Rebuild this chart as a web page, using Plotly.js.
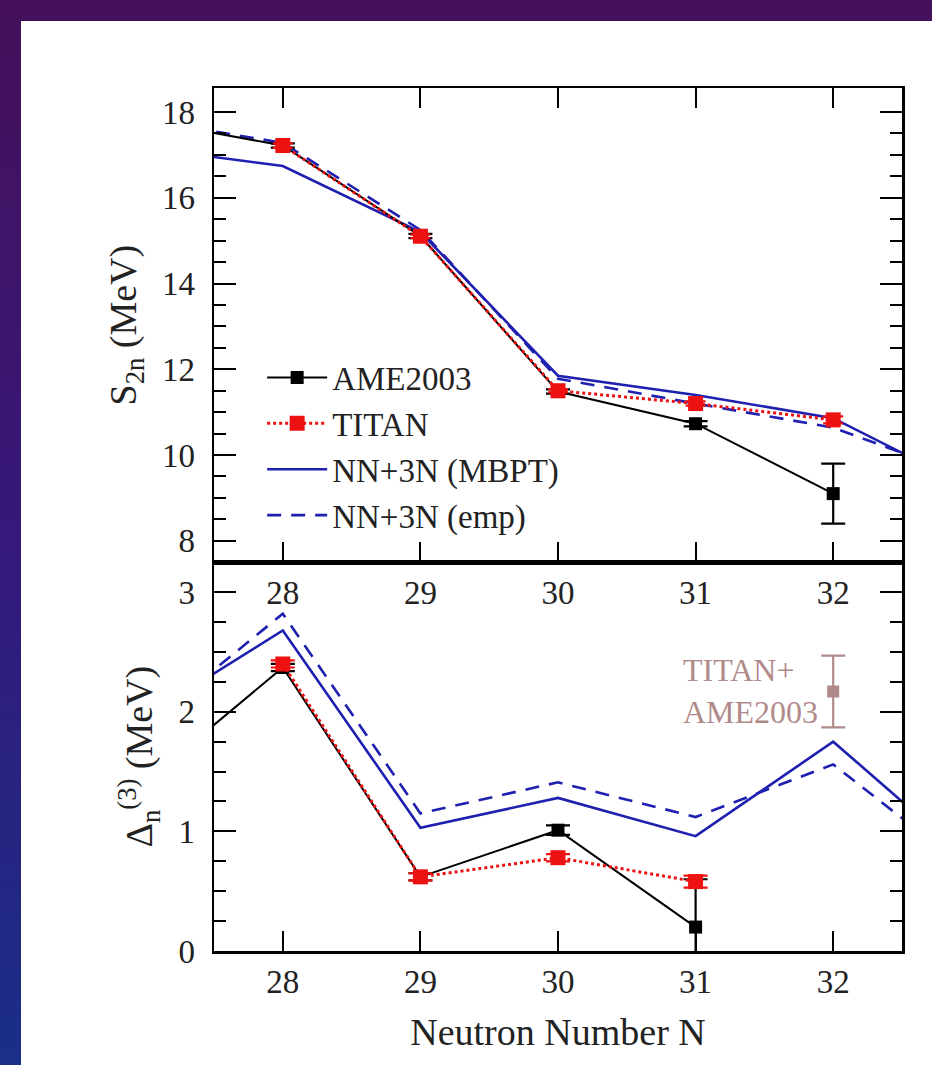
<!DOCTYPE html>
<html>
<head>
<meta charset="utf-8">
<script src="https://cdn.plot.ly/plotly-3.0.1.min.js"></script>
<style>
  html, body { margin: 0; padding: 0; }
  body {
    width: 932px; height: 1065px; overflow: hidden;
    background: linear-gradient(to bottom, #46105a 0%, #35187a 50%, #1a2f88 100%);
  }
  #chart { position: absolute; left: 21px; top: 21px; width: 911px; height: 1044px; background: #ffffff; }
</style>
</head>
<body>
<div id="chart"></div>
<script>
// ---------- data ----------
// Top panel: two-neutron separation energy S2n (MeV)
const ameN_S2n      = [27, 28, 29, 30, 31, 32];
const ame_S2n       = [17.80, 17.22, 15.11, 11.48, 10.73, 9.10];
const ame_S2n_err   = [0, 0.05, 0.05, 0.05, 0.06, 0.70];

const titanN_S2n    = [28, 29, 30, 31, 32];
const titan_S2n     = [17.22, 15.10, 11.50, 11.20, 10.82];
const titan_S2n_err = [0.05, 0.04, 0.04, 0.05, 0.08];

const theoryN       = [27, 28, 29, 30, 31, 32, 33];
const mbpt_S2n      = [17.16, 16.74, 15.20, 11.85, 11.40, 10.86, 9.24];
const emp_S2n       = [17.82, 17.28, 15.25, 11.78, 11.20, 10.64, 9.46];

// Bottom panel: three-point gap Delta_n^(3) (MeV)
const ameN_D        = [27, 28, 29, 30, 31];
const ame_D         = [1.41, 2.37, 0.62, 1.01, 0.20];
const ame_D_err     = [0, 0.03, 0.03, 0.04, 0.40];

const titanN_D      = [28, 29, 30, 31];
const titan_D       = [2.40, 0.62, 0.78, 0.58];
const titan_D_err   = [0.03, 0.03, 0.03, 0.05];

const mbpt_D        = [1.96, 2.68, 1.03, 1.28, 0.96, 1.75, 0.75];
const emp_D         = [1.88, 2.82, 1.15, 1.41, 1.12, 1.56, 0.66];

const combN_D       = [32];
const comb_D        = [2.17];
const comb_D_err    = [0.30];

const xTicks        = [28, 29, 30, 31, 32];
const names         = ['AME2003', 'TITAN', 'NN+3N (MBPT)', 'NN+3N (emp)'];

// ---------- styling ----------
const FONT = '"Liberation Serif", "Times New Roman", Times, serif';
const TXT = '#222222';
const BLUE = '#1f1fb0';
const RED = '#ee1111';
const COMB = '#b08a8a';

function errY(arr, color, w) {
  return { type: 'data', array: arr, visible: true, color: color, thickness: 2.2, width: w };
}

const traces = [
  // top panel
  { x: theoryN, y: mbpt_S2n, xaxis: 'x', yaxis: 'y', mode: 'lines', name: names[2], legendrank: 3,
    line: { color: BLUE, width: 2.6 } },
  { x: theoryN, y: emp_S2n, xaxis: 'x', yaxis: 'y', mode: 'lines', name: names[3], legendrank: 4,
    line: { color: BLUE, width: 2.6, dash: '14px,10px' } },
  { x: ameN_S2n, y: ame_S2n, xaxis: 'x', yaxis: 'y', mode: 'lines+markers', name: names[0], legendrank: 1,
    line: { color: '#000000', width: 2 }, marker: { symbol: 'square', size: 13, color: '#000000' },
    error_y: errY(ame_S2n_err, '#000000', 12) },
  { x: titanN_S2n, y: titan_S2n, xaxis: 'x', yaxis: 'y', mode: 'lines+markers', name: names[1], legendrank: 2,
    line: { color: RED, width: 3, dash: 'dot' }, marker: { symbol: 'square', size: 15, color: RED },
    error_y: errY(titan_S2n_err, RED, 10) },

  // bottom panel
  { x: theoryN, y: mbpt_D, xaxis: 'x2', yaxis: 'y2', mode: 'lines', showlegend: false,
    line: { color: BLUE, width: 2.6 } },
  { x: theoryN, y: emp_D, xaxis: 'x2', yaxis: 'y2', mode: 'lines', showlegend: false,
    line: { color: BLUE, width: 2.6, dash: '14px,10px' } },
  { x: ameN_D, y: ame_D, xaxis: 'x2', yaxis: 'y2', mode: 'lines+markers', showlegend: false,
    line: { color: '#000000', width: 2 }, marker: { symbol: 'square', size: 13, color: '#000000' },
    error_y: errY(ame_D_err, '#000000', 12) },
  { x: titanN_D, y: titan_D, xaxis: 'x2', yaxis: 'y2', mode: 'lines+markers', showlegend: false,
    line: { color: RED, width: 3, dash: 'dot' }, marker: { symbol: 'square', size: 15, color: RED },
    error_y: errY(titan_D_err, RED, 12) },
  { x: combN_D, y: comb_D, xaxis: 'x2', yaxis: 'y2', mode: 'markers', showlegend: false,
    marker: { symbol: 'square', size: 12, color: COMB },
    error_y: errY(comb_D_err, COMB, 12) }
];

const split = 0.4505;

const xCommon = {
  range: [27.5, 32.5], tickmode: 'array', tickvals: xTicks, ticktext: xTicks.map(String),
  ticks: 'inside', ticklen: 20, tickwidth: 2, tickcolor: '#000',
  showline: true, linecolor: '#000', linewidth: 2.5,
  showgrid: false, zeroline: false, ticklabelstandoff: 0,
  tickfont: { family: FONT, size: 33, color: TXT }
};

const layout = {
  width: 911, height: 1044,
  margin: { l: 193, r: 30, t: 66.5, b: 114 },
  paper_bgcolor: '#ffffff', plot_bgcolor: '#ffffff',
  font: { family: FONT, color: TXT },
  showlegend: true,
  legend: {
    x: 0.07, y: 0.697, xanchor: 'left', yanchor: 'top',
    bgcolor: 'rgba(0,0,0,0)', borderwidth: 0,
    font: { family: FONT, size: 33, color: TXT },
    itemwidth: 60, tracegroupgap: 0
  },
  xaxis: Object.assign({}, xCommon, { anchor: 'y', mirror: 'ticks' }),
  yaxis: {
    domain: [split, 1], anchor: 'x', range: [7.5, 18.56],
    tickmode: 'array', tickvals: [8, 10, 12, 14, 16, 18],
    ticks: 'inside', ticklen: 22, tickwidth: 2, tickcolor: '#000',
    minor: { tickmode: 'array', tickvals: [8.5, 9, 9.5, 10.5, 11, 11.5, 12.5, 13, 13.5, 14.5, 15, 15.5, 16.5, 17, 17.5],
             ticks: 'inside', ticklen: 12, tickwidth: 2, tickcolor: '#000', showgrid: false },
    showline: true, linecolor: '#000', linewidth: 2.5, mirror: 'ticks',
    showgrid: false, zeroline: false, ticklabelstandoff: 10,
    tickfont: { family: FONT, size: 33, color: TXT },
    title: { text: 'S<sub>2n</sub> (MeV)', font: { family: FONT, size: 38, color: TXT }, standoff: 14 }
  },
  xaxis2: Object.assign({}, xCommon, { anchor: 'y2', mirror: true,
    title: { text: 'Neutron Number N', font: { family: FONT, size: 38, color: TXT }, standoff: 20 } }),
  yaxis2: {
    domain: [0, split], anchor: 'x2', range: [0, 3.25],
    tickmode: 'array', tickvals: [0, 1, 2, 3],
    ticks: 'inside', ticklen: 22, tickwidth: 2, tickcolor: '#000',
    minor: { tickmode: 'array', tickvals: [0.25, 0.5, 0.75, 1.25, 1.5, 1.75, 2.25, 2.5, 2.75],
             ticks: 'inside', ticklen: 12, tickwidth: 2, tickcolor: '#000', showgrid: false },
    showline: true, linecolor: '#000', linewidth: 2.5, mirror: 'ticks',
    showgrid: false, zeroline: false, ticklabelstandoff: 10,
    tickfont: { family: FONT, size: 33, color: TXT },
    title: { text: '\u0394<sub>n</sub><sup>(3)</sup> (MeV)', font: { family: FONT, size: 38, color: TXT }, standoff: 14 }
  },
  annotations: [
    { x: combN_D[0], y: comb_D[0], xref: 'x2', yref: 'y2', text: 'TITAN+<br>AME2003',
      showarrow: false, xanchor: 'right', yanchor: 'middle', align: 'left', xshift: -13,
      font: { family: FONT, size: 32, color: COMB } }
  ]
};

Plotly.newPlot('chart', traces, layout, { displayModeBar: false, staticPlot: true });
</script>
</body>
</html>
